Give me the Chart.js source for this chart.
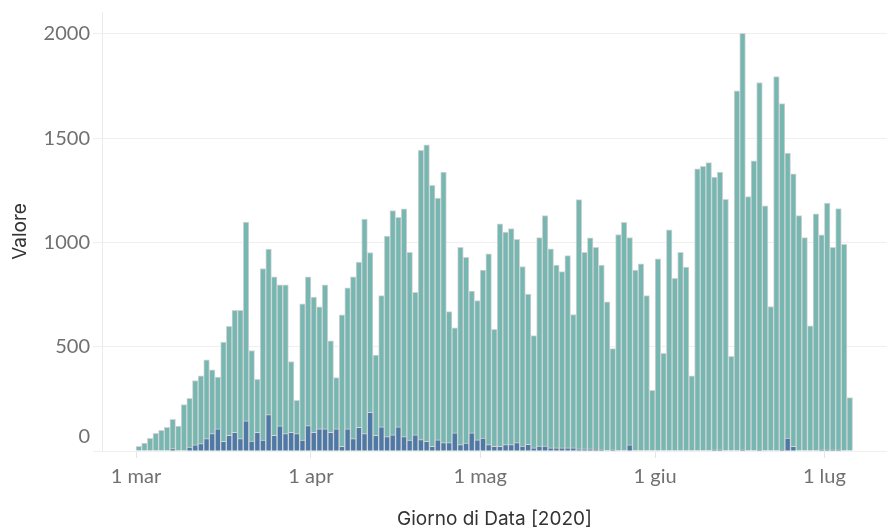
<!DOCTYPE html>
<html>
<head>
<meta charset="utf-8">
<script src="https://cdn.jsdelivr.net/npm/chart.js@4/dist/chart.umd.min.js"></script>
<style>
  html, body { margin: 0; padding: 0; background: #fff; }
</style>
</head>
<body>
<canvas id="chart" width="887" height="529"></canvas>
<script>
// one value per day, starting from startDate
const startDate = "2020-03-01";
const tickDates = ["2020-03-01", "2020-04-01", "2020-05-01", "2020-06-01", "2020-07-01"];
const tickLabels = ["1 mar", "1 apr", "1 mag", "1 giu", "1 lug"];
const yTicks = [0, 500, 1000, 1500, 2000];

const casi = [
  22, 38, 61, 85, 99, 114, 152, 120, 222, 253,
  338, 360, 437, 389, 354, 522, 598, 675, 675, 1098,
  482, 344, 875, 968, 835, 797, 797, 429, 243, 706,
  835, 738, 691, 797, 528, 352, 653, 782, 835, 906,
  1112, 952, 460, 745, 1031, 1153, 1121, 1161, 953, 761,
  1442, 1468, 1274, 1213, 1337, 668, 590, 977, 929, 767,
  721, 868, 945, 584, 1089, 1050, 1066, 1015, 884, 753,
  553, 1023, 1129, 969, 892, 860, 937, 654, 1205, 953,
  1022, 977, 892, 715, 491, 1038, 1097, 1023, 868, 898,
  745, 291, 921, 468, 1060, 828, 953, 882, 360, 1353,
  1365, 1383, 1314, 1338, 1207, 454, 1727, 2003, 1220, 1391,
  1767, 1175, 692, 1795, 1666, 1429, 1329, 1129, 1023, 600,
  1137, 1036, 1189, 977, 1162, 991, 256
];

const decessi = [
  null, null, null, null, null, null, 12, null, null, 19,
  30, 36, 60, 84, 106, 46, 75, 90, 60, 145,
  47, 90, 52, 175, 75, 121, 84, 90, 84, 52,
  122, 89, 106, 106, 89, 106, 22, 106, 60, 114,
  84, 185, 75, 116, 69, 77, 116, 69, 52, 77,
  55, 46, 22, 53, 40, 40, 87, 31, 38, 87,
  53, 62, 31, 22, 22, 31, 31, 40, 23, 32,
  15, 23, 23, 15, 15, 15, 15, 15, 10, 10,
  10, 9, 7, null, 7, null, null, 30, null, null,
  null, null, null, null, null, null, null, null, null, null,
  null, null, 7, 7, null, null, null, 7, null, null,
  6, null, null, null, 6, 62, 22, null, null, null,
  null, 7, 7, 7, 7, null, null
];

const tickColor = "#707070";
const titleColor = "#333333";
const tickFont = "Lato, 'Liberation Sans', sans-serif";
const titleFont = "Inter, 'Liberation Sans', sans-serif";

function dayIndex(d) {
  return (Date.parse(d) - Date.parse(startDate)) / 86400000;
}

// bar of day i fills the slot [i, i+1]
function toPoints(values) {
  return values.map((v, i) => ({ x: i + 0.5, y: v }));
}

// tableau-like y labels: the bottom one is lifted so it stays above the axis
const yLabelPlugin = {
  id: "yLabels",
  afterDraw(chart) {
    const scale = chart.scales.y;
    const area = chart.chartArea;
    const ctx = chart.ctx;
    ctx.save();
    ctx.font = "20px " + tickFont;
    ctx.fillStyle = tickColor;
    ctx.textAlign = "right";
    ctx.textBaseline = "middle";
    for (const tick of scale.ticks) {
      const y = Math.min(scale.getPixelForValue(tick.value), area.bottom - 14);
      ctx.fillText(String(tick.value), scale.right - 12, y);
    }
    ctx.restore();
  },
};

const config = {
  type: "bar",
  data: {
    datasets: [
      {
        label: "Decessi",
        data: toPoints(decessi),
        backgroundColor: "#4e79a7",
        borderColor: "#d4d4d4",
        borderWidth: 1,
        grouped: false,
        order: 1,
      },
      {
        label: "Casi",
        data: toPoints(casi),
        backgroundColor: "#76b7b2",
        borderColor: "#d4d4d4",
        borderWidth: 1,
        grouped: false,
        order: 2,
      },
    ],
  },
  options: {
    responsive: false,
    animation: false,
    devicePixelRatio: 1,
    categoryPercentage: 1,
    barPercentage: 1,
    layout: { padding: { top: 12, left: 0, right: 0, bottom: 0 } },
    plugins: {
      legend: { display: false },
      tooltip: { enabled: false },
    },
    scales: {
      x: {
        type: "linear",
        min: -6.03,
        max: 133.1,
        offset: false,
        afterBuildTicks: (scale) => {
          scale.ticks = tickDates.map((d) => ({ value: dayIndex(d) }));
        },
        afterFit: (scale) => {
          scale.height = 78;
        },
        ticks: {
          callback: (value, index) => tickLabels[index],
          autoSkip: false,
          maxRotation: 0,
          padding: 7,
          color: tickColor,
          font: { family: tickFont, size: 20 },
        },
        grid: {
          offset: false,
          drawOnChartArea: false,
          drawTicks: true,
          tickLength: 7,
          color: "#e4e4e4",
        },
        border: { display: false },
        title: {
          display: true,
          text: "Giorno di Data [2020]",
          color: titleColor,
          font: { family: titleFont, size: 19 },
          padding: { top: 0, bottom: -2 },
        },
      },
      y: {
        type: "linear",
        min: 0,
        max: 2105,
        afterBuildTicks: (scale) => {
          scale.ticks = yTicks.map((v) => ({ value: v }));
        },
        afterFit: (scale) => {
          scale.width = 102;
        },
        ticks: { display: false },
        grid: {
          color: "#efefef",
          drawTicks: true,
          tickLength: 9,
        },
        border: { display: true, color: "#ebebeb" },
        title: {
          display: true,
          text: "Valore",
          color: titleColor,
          font: { family: titleFont, size: 19 },
          padding: { top: 9, bottom: 0 },
        },
      },
    },
  },
  plugins: [yLabelPlugin],
};

new Chart(document.getElementById("chart"), config);
</script>
</body>
</html>
